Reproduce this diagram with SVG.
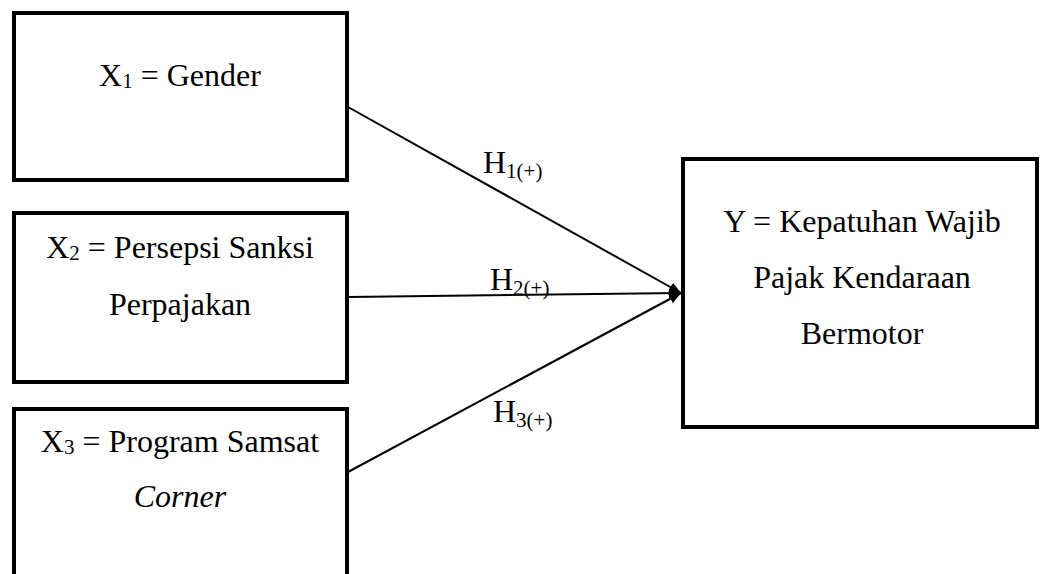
<svg xmlns="http://www.w3.org/2000/svg" width="1040" height="574" viewBox="0 0 1040 574">
<style>
.box{fill:#fff;stroke:#000;stroke-width:4}
text{font-family:'Liberation Serif','Times New Roman',serif;font-size:32px;fill:#000}
.t{text-anchor:middle}
.sub{font-size:21px}
.c{stroke:#000;stroke-width:2;fill:none}
</style>
<defs>
<marker id="ah" viewBox="0 0 12 10" refX="12" refY="5" markerWidth="12" markerHeight="10" markerUnits="userSpaceOnUse" orient="auto">
<path d="M0,0 L12,5 L0,10 z" fill="#000"/>
</marker>
</defs>
<rect width="1040" height="574" fill="#fff"/>
<g id="connectors">
<line class="c" x1="348" y1="107" x2="681" y2="293" marker-end="url(#ah)"/>
<line class="c" x1="348" y1="297" x2="681" y2="293" marker-end="url(#ah)"/>
<line class="c" x1="348" y1="472" x2="681" y2="293" marker-end="url(#ah)"/>
<text x="483" y="173">H<tspan class="sub" dy="5">1(+)</tspan></text>
<text x="490" y="290">H<tspan class="sub" dy="5">2(+)</tspan></text>
<text x="493" y="422">H<tspan class="sub" dy="5">3(+)</tspan></text>
</g>
<g id="x1">
<rect class="box" x="14" y="13" width="333" height="167"/>
<text class="t" x="180" y="86">X<tspan class="sub" dy="2">1</tspan><tspan dy="-2"> = Gender</tspan></text>
</g>
<g id="x2">
<rect class="box" x="14" y="213" width="333" height="169"/>
<text class="t" x="180" y="258">X<tspan class="sub" dy="2">2</tspan><tspan dy="-2"> = Persepsi Sanksi</tspan></text>
<text class="t" x="180" y="315">Perpajakan</text>
</g>
<g id="x3">
<rect class="box" x="14" y="409" width="333" height="180"/>
<text class="t" x="180" y="452">X<tspan class="sub" dy="2">3</tspan><tspan dy="-2"> = Program Samsat</tspan></text>
<text class="t" x="180" y="507" font-style="italic">Corner</text>
</g>
<g id="y">
<rect class="box" x="683" y="159" width="354" height="268"/>
<text class="t" x="862" y="232">Y = Kepatuhan Wajib</text>
<text class="t" x="862" y="288">Pajak Kendaraan</text>
<text class="t" x="862" y="344">Bermotor</text>
</g>
</svg>
